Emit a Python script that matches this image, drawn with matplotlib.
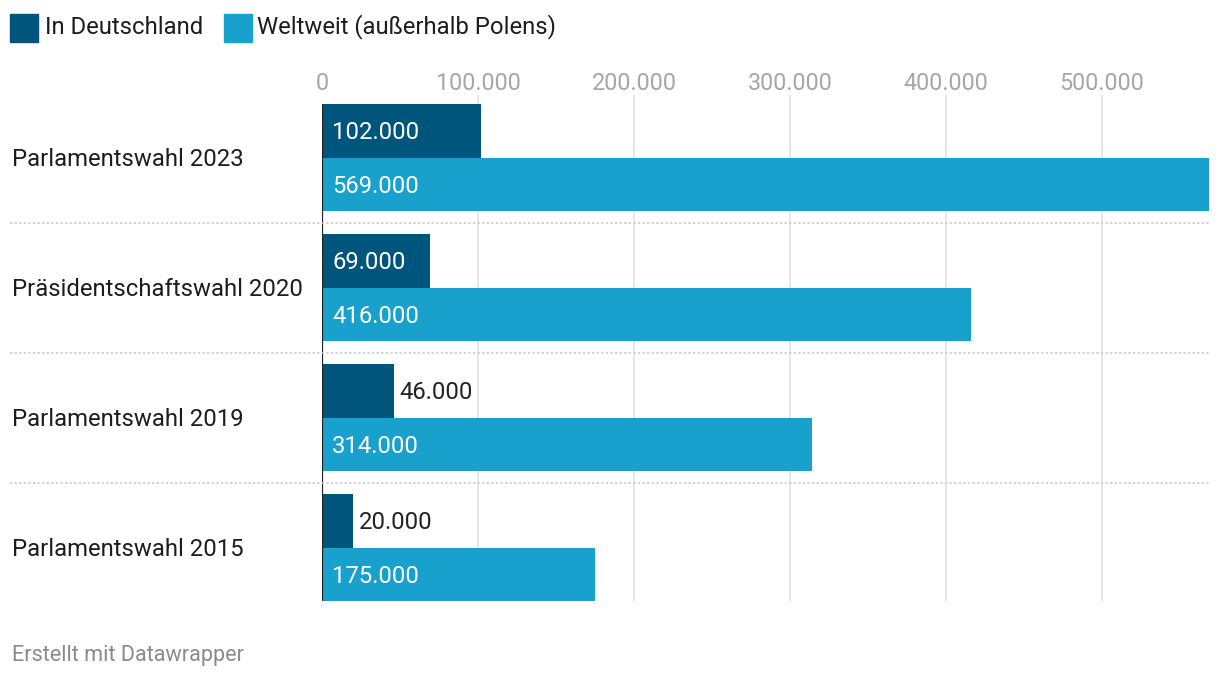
import matplotlib
matplotlib.use("Agg")
import matplotlib.pyplot as plt
from matplotlib.patches import Rectangle

categories = ["Parlamentswahl 2023", "Präsidentschaftswahl 2020", "Parlamentswahl 2019", "Parlamentswahl 2015"]
series_names = ["In Deutschland", "Weltweit (außerhalb Polens)"]
de_values = [102000, 69000, 46000, 20000]
world_values = [569000, 416000, 314000, 175000]
xticks = [0, 100000, 200000, 300000, 400000, 500000]

DARK = "#00557d"
LIGHT = "#18a1cd"
FONT = ["Roboto", "DejaVu Sans"]
FS = 17.2

def fmt(v):
    return f"{v:,.0f}".replace(",", ".")

W, H = 1220, 680
fig = plt.figure(figsize=(W / 100, H / 100), dpi=100)
plt.rcParams['font.family'] = FONT

ax_left, ax_right = 322 / W, 1209 / W
ax_top, ax_bot = 1 - 95 / H, 1 - 601 / H
ax = fig.add_axes([ax_left, ax_bot, ax_right - ax_left, ax_top - ax_bot])
ax.set_xlim(0, 568500)
ax.set_ylim(3.4115, -0.481)

bh = 0.415
off = bh / 2
for i, (d, w) in enumerate(zip(de_values, world_values)):
    ax.barh(i - off, d, height=bh, color=DARK, zorder=3)
    ax.barh(i + off, w, height=bh, color=LIGHT, zorder=3)

# labels
pad = 10 * 568500 / 887
for i, (d, w) in enumerate(zip(de_values, world_values)):
    for val, yy in ((d, i - off), (w, i + off)):
        if val > 60000:
            ax.text(pad, yy + 0.012, fmt(val), color="white", va="center", ha="left",
                    fontsize=FS, zorder=5)
        else:
            ax.text(val + pad * 0.6, yy + 0.012, fmt(val), color="#222222", va="center",
                    ha="left", fontsize=FS, zorder=5)

# gridlines
for t in xticks[1:]:
    ax.axvline(t, color="#e3e3e3", lw=1.2, zorder=1)
# zero axis line
ax.plot([0, 0], [-off - bh / 2, 3 + off + bh / 2], color="#222222", lw=1.6, zorder=6,
        solid_capstyle="butt")

ax.xaxis.tick_top()
ax.set_xticks(xticks)
ax.set_xticklabels([fmt(t) for t in xticks], color="#a6a6a6", fontsize=16.8)
ax.tick_params(axis="x", length=0, pad=0)
ax.set_yticks([])
for s in ax.spines.values():
    s.set_visible(False)

for i in range(len(categories) - 1):
    yd = i + 0.5
    yfig = ax.transData.transform((0, yd))[1] / (H)
    fig.add_artist(plt.Line2D([10 / W, 1209 / W], [yfig, yfig], color="#c8c8c8",
                              lw=1.1, ls=(0, (1.5, 1.5)), transform=fig.transFigure))

# category labels
for i, c in enumerate(categories):
    yfig = ax.transData.transform((0, i + 0.015))[1] / H
    fig.text(12 / W, yfig, c, ha="left", va="center", fontsize=FS, color="#1d1d1d")

# legend
leg_items = [(10, 45, DARK, series_names[0]), (224, 257, LIGHT, series_names[1])]
for x0, tx, col, name in leg_items:
    fig.add_artist(Rectangle((x0 / W, 1 - 42 / H), 28 / W, 28 / H, color=col,
                             transform=fig.transFigure))
    fig.text(tx / W, 1 - 27 / H, name, ha="left", va="center", fontsize=FS,
             color="#1d1d1d")

fig.text(12 / W, 1 - 655 / H, "Erstellt mit Datawrapper", ha="left", va="center",
         fontsize=15.6, color="#8a8a8a")

fig.savefig("out.png", dpi=100, facecolor="white")
